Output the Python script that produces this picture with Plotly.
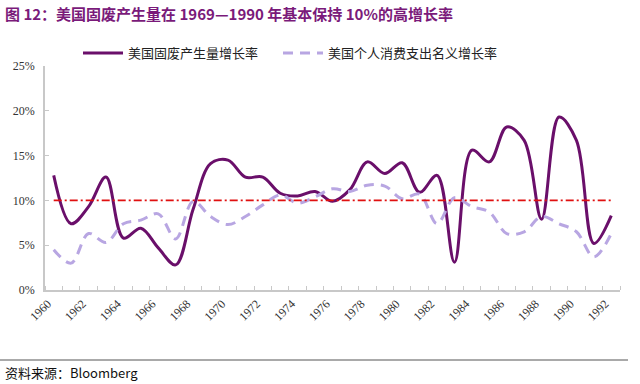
import plotly.graph_objects as go

years = list(range(1960, 1993))
waste_growth = [12.8, 7.4, 9.3, 12.6, 5.8, 6.9, 4.7, 2.8, 9.0, 14.1, 14.5, 12.6, 12.6,
                10.8, 10.5, 11.0, 9.9, 11.2, 14.3, 13.0, 14.2, 10.9, 12.8, 3.1, 15.6,
                14.3, 18.2, 16.7, 7.9, 19.3, 16.7, 5.2, 8.3]
consumption_growth = [4.5, 3.0, 6.3, 5.3, 7.4, 7.8, 8.5, 5.7, 9.9, 8.2, 7.3, 8.2, 9.5,
                      10.6, 9.7, 10.4, 11.3, 11.0, 11.7, 11.6, 10.2, 10.7, 7.4, 10.3, 9.3,
                      8.7, 6.3, 6.5, 8.2, 7.4, 6.5, 3.7, 6.3]
benchmark = [10.0] * len(years)
tick_years = list(range(1960, 1993, 2))
y_ticks = [0, 5, 10, 15, 20, 25]

name1 = "美国固废产生量增长率"
name2 = "美国个人消费支出名义增长率"
title = "图 12：美国固废产生量在 1969—1990 年基本保持 10%的高增长率"
source = "资料来源：Bloomberg"

fig = go.Figure()
fig.add_trace(go.Scatter(x=years, y=waste_growth, name=name1, mode="lines", legend="legend",
                         line=dict(color="#6a0f6a", width=3, shape="spline", smoothing=1.0)))
fig.add_trace(go.Scatter(x=years, y=consumption_growth, name=name2, mode="lines", legend="legend2",
                         line=dict(color="#b8a6e2", width=3, shape="spline", smoothing=1.0,
                                   dash="10px,7px")))
fig.add_trace(go.Scatter(x=years, y=benchmark, mode="lines", showlegend=False,
                         line=dict(color="#e01010", width=1.6, dash="8px,3px,2px,3px")))

leg_common = dict(orientation="h", xanchor="left", y=(290 - 53) / 224, yanchor="middle",
                  font=dict(family="Noto Sans CJK SC", size=13, color="#222"),
                  bgcolor="rgba(0,0,0,0)", itemwidth=40)

fig.update_layout(
    width=640, height=384,
    margin=dict(l=45, r=20, t=66, b=94),
    paper_bgcolor="white", plot_bgcolor="white",
    font=dict(family="Liberation Serif", size=12, color="#333"),
    legend=dict(x=(78 - 45) / 575, **leg_common),
    legend2=dict(x=(278 - 45) / 575, **leg_common),
    showlegend=True,
)
fig.update_xaxes(range=[1959.5, 1992.5], tickvals=tick_years, ticktext=[str(y) for y in tick_years],
                 tickangle=-45, ticks="", showgrid=False, zeroline=False, automargin=False,
                 showline=True, linecolor="#c8c8c8", linewidth=2, ticklabelshift=-6,
                 tickfont=dict(family="Liberation Serif", size=12, color="#333"),
                 minor=dict(tick0=1959.5, dtick=1, ticks="inside", ticklen=4,
                            tickcolor="#c8c8c8", showgrid=False))
fig.update_yaxes(range=[0, 25], tickvals=y_ticks, ticktext=[f"{v}%" for v in y_ticks],
                 ticks="inside", ticklen=4, tickcolor="#c8c8c8", showgrid=False, automargin=False,
                 zeroline=False, showline=True, linecolor="#c8c8c8", linewidth=1.5,
                 tickfont=dict(family="Liberation Serif", size=12, color="#333"),
                 ticklabelstandoff=6)

fig.add_annotation(text="<b>" + title + "</b>", xref="paper", yref="paper",
                   x=-42/575, y=(290 - 1) / 224, xanchor="left", yanchor="top",
                   showarrow=False, font=dict(family="Noto Sans CJK SC", size=15, color="#7a1a7a"))
fig.add_annotation(text=source, xref="paper", yref="paper",
                   x=-42/575, y=(290 - 361) / 224, xanchor="left", yanchor="top",
                   showarrow=False, font=dict(family="Noto Sans CJK SC", size=13, color="#111"))
fig.add_shape(type="line", xref="paper", yref="paper",
              x0=-45/575, x1=(628 - 45) / 575, y0=(290 - 360) / 224, y1=(290 - 360) / 224,
              line=dict(color="#555", width=1))

fig.write_html("out.html", config={"displayModeBar": False},
               post_script="document.body.style.margin='0';document.body.style.padding='0';")
